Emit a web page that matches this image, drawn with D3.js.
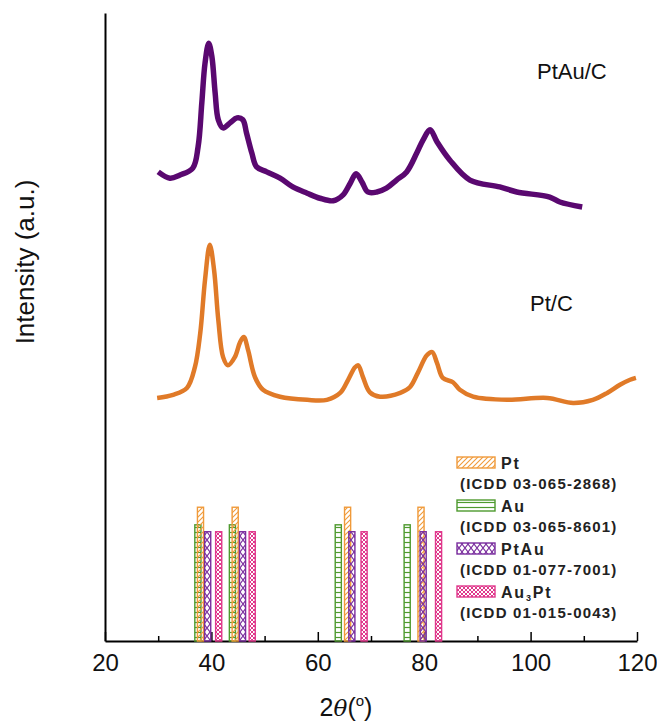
<!DOCTYPE html>
<html><head><meta charset="utf-8">
<script src="https://cdn.jsdelivr.net/npm/d3@7"></script>
<style>
body{margin:0;background:#fff;}
svg{display:block;font-family:"Liberation Sans",Arial,sans-serif;}
</style></head>
<body><svg id="chart" width="657" height="723"></svg>
<script>
// ---- data ----
const ptauTheta = [30.0,32.2,34.1,36.5,37.5,38.2,38.8,39.5,40.1,40.7,41.3,42.2,43.5,44.8,45.9,46.6,47.6,48.5,50.4,52.9,55.3,58.0,60.4,62.9,64.7,66.1,67.2,68.3,69.4,71.1,72.9,74.8,76.7,78.6,79.8,81.1,82.4,84.8,88.6,94.2,97.4,103.6,105.5,109.7];
const ptauInt   = [74.7,73.7,74.2,75.3,78.7,85.7,92.0,95.2,93.0,87.3,83.0,81.7,82.5,83.3,83.0,80.9,77.7,75.5,74.7,73.7,72.3,71.3,70.5,70.1,71.0,72.9,74.4,73.1,71.5,71.5,72.1,73.4,74.7,77.7,79.8,81.4,79.5,76.6,73.4,72.3,71.5,70.7,69.9,69.1];
const ptTheta = [29.8,32.8,35.4,36.9,37.9,38.8,39.7,40.5,41.3,42.2,43.1,44.4,45.4,46.1,46.9,48.2,49.7,52.9,58.0,61.7,64.2,65.7,67.0,67.6,68.5,69.8,71.7,75.5,77.3,78.8,80.5,81.5,82.4,83.5,85.4,86.7,89.2,95.6,103.1,108.0,111.7,114.4,116.8,118.7,119.8];
const ptInt   = [38.7,39.2,40.3,43.6,49.0,57.5,63.1,59.1,51.1,45.2,43.9,45.2,47.6,48.4,46.3,42.0,40.0,38.9,38.4,38.4,39.5,41.6,43.6,43.9,42.0,39.6,38.9,39.5,40.4,42.7,45.5,46.0,44.3,41.9,41.2,40.0,38.9,38.4,38.7,37.9,38.4,39.5,40.8,41.6,41.9];

const refNames  = ["Pt","Au","PtAu","Au3Pt"];
const refCodes  = ["(ICDD 03-065-2868)","(ICDD 03-065-8601)","(ICDD 01-077-7001)","(ICDD 01-015-0043)"];
const refPt     = [37.95,44.47,65.6,79.4];
const refAu     = [37.46,43.95,63.85,76.8];
const refPtAu   = [39.3,45.85,66.4,79.8];
const refAu3Pt  = [41.37,47.67,68.7,82.7];
const refHeight = [21.3,18.5,17.4,17.4]; // Pt, Au, PtAu, Au3Pt

const xTicks = [20,40,60,80,100,120];
const xMinorTicks = [30,50,70,90,110];

// ---- setup ----
const svg = d3.select("#chart");
const x = d3.scaleLinear().domain([20,120]).range([105,637]);
const y = d3.scaleLinear().domain([0,100]).range([641,13]);

const colors = {Pt:"#F09A3A", Au:"#4E9A2E", PtAu:"#7A2E9E", Au3Pt:"#E0388C"};

// patterns
const defs = svg.append("defs");
function pat(id, w, h, draw){
  const p = defs.append("pattern").attr("id",id).attr("patternUnits","userSpaceOnUse").attr("width",w).attr("height",h);
  draw(p);
}
pat("pPt",5,5,p=>{
  p.append("path").attr("d","M-1,6 L6,-1 M-1,1 L1,-1 M4,6 L6,4").attr("stroke",colors.Pt).attr("stroke-width",1.1).attr("fill","none");
});
pat("pAu",4,5,p=>{
  p.append("line").attr("x1",0).attr("x2",4).attr("y1",2.5).attr("y2",2.5).attr("stroke",colors.Au).attr("stroke-width",1.2);
});
pat("pPtAu",6,8,p=>{
  p.append("path").attr("d","M0,0 L6,8 M6,0 L0,8").attr("stroke",colors.PtAu).attr("stroke-width",1.1).attr("fill","none");
});
pat("pAu3Pt",4,4,p=>{
  p.append("path").attr("d","M0,0 L4,4 M4,0 L0,4").attr("stroke",colors.Au3Pt).attr("stroke-width",1).attr("fill","none");
});

// axes
const xAxis = svg.append("g").attr("transform",`translate(0,${y(0)})`)
  .call(d3.axisBottom(x).tickValues(xTicks).tickSize(-9).tickSizeOuter(0).tickPadding(20));
xAxis.select(".domain").attr("stroke","#000").attr("stroke-width",2);
xAxis.selectAll(".tick line").attr("stroke","#000").attr("stroke-width",1.5);
xAxis.selectAll(".tick text").attr("font-size",24).attr("font-family","Liberation Sans, Arial, sans-serif").attr("fill","#111").attr("dy","0.4em");
const xMinor = svg.append("g").attr("transform",`translate(0,${y(0)})`)
  .call(d3.axisBottom(x).tickValues(xMinorTicks).tickSize(-5).tickSizeOuter(0).tickFormat(""));
xMinor.select(".domain").remove();
xMinor.selectAll(".tick line").attr("stroke","#000").attr("stroke-width",1.5);

const yAxis = svg.append("g").attr("transform",`translate(${x(20)},0)`)
  .call(d3.axisLeft(y).tickValues([]).tickSizeOuter(0));
yAxis.select(".domain").attr("stroke","#000").attr("stroke-width",2);

// reference bars
const barW = 1.15; // degrees
const refSets = [
  {name:"Au",  pos:refAu,   h:refHeight[1], fill:"url(#pAu)"},
  {name:"Pt",  pos:refPt,   h:refHeight[0], fill:"url(#pPt)"},
  {name:"PtAu",pos:refPtAu, h:refHeight[2], fill:"url(#pPtAu)"},
  {name:"Au3Pt",pos:refAu3Pt,h:refHeight[3], fill:"url(#pAu3Pt)"}
];
refSets.forEach(s=>{
  svg.append("g").selectAll("rect").data(s.pos).join("rect")
    .attr("x",d=>x(d-barW/2)).attr("width",x(barW)-x(0))
    .attr("y",y(s.h)).attr("height",y(0)-y(s.h))
    .attr("fill",s.fill).attr("stroke",colors[s.name]).attr("stroke-width",1.4);
});

// curves
const line = d3.line().x(d=>x(d[0])).y(d=>y(d[1])).curve(d3.curveCatmullRom.alpha(0.5));
svg.append("path").datum(d3.zip(ptTheta,ptInt)).attr("d",line)
  .attr("fill","none").attr("stroke","#E07A28").attr("stroke-width",4.5).attr("stroke-linejoin","round");
svg.append("path").datum(d3.zip(ptauTheta,ptauInt)).attr("d",line)
  .attr("fill","none").attr("stroke","#5A0870").attr("stroke-width",5.5).attr("stroke-linejoin","round");

// curve labels
svg.append("text").attr("x",537).attr("y",79).attr("font-size",22).attr("fill","#111").text("PtAu/C");
svg.append("text").attr("x",530).attr("y",311).attr("font-size",22).attr("fill","#111").text("Pt/C");

// axis titles
const xt = svg.append("text").attr("x",346).attr("y",716).attr("text-anchor","middle").attr("font-size",25).attr("fill","#111");
xt.append("tspan").text("2");
xt.append("tspan").attr("font-style","italic").attr("font-family","DejaVu Serif, serif").attr("font-size",23).text("θ");
xt.append("tspan").text("(");
xt.append("tspan").attr("font-size",15).attr("dy",-10).text("o");
xt.append("tspan").attr("dy",10).text(")");

svg.append("text").attr("transform","translate(34,262) rotate(-90)").attr("text-anchor","middle")
  .attr("font-size",26).attr("fill","#111").text("Intensity (a.u.)");

// legend
const legFills = ["url(#pPt)","url(#pAu)","url(#pPtAu)","url(#pAu3Pt)"];
const legCols = [colors.Pt,colors.Au,colors.PtAu,colors.Au3Pt];
refNames.forEach((n,i)=>{
  const top = 457 + i*43;
  svg.append("rect").attr("x",457).attr("y",top).attr("width",38).attr("height",11)
    .attr("fill",legFills[i]).attr("stroke",legCols[i]).attr("stroke-width",1.4);
  const t = svg.append("text").attr("x",501).attr("y",top+12).attr("font-size",16).attr("font-weight","bold")
    .attr("letter-spacing",1.8).attr("fill","#222");
  if(n==="Au3Pt"){
    t.append("tspan").text("Au");
    t.append("tspan").attr("font-size",9).attr("dy",3).text("3");
    t.append("tspan").attr("dy",-3).text("Pt");
  } else t.text(n);
  svg.append("text").attr("x",460).attr("y",top+32).attr("font-size",15).attr("font-weight","bold")
    .attr("letter-spacing",1.2).attr("fill","#222").text(refCodes[i]);
});
</script></body></html>
